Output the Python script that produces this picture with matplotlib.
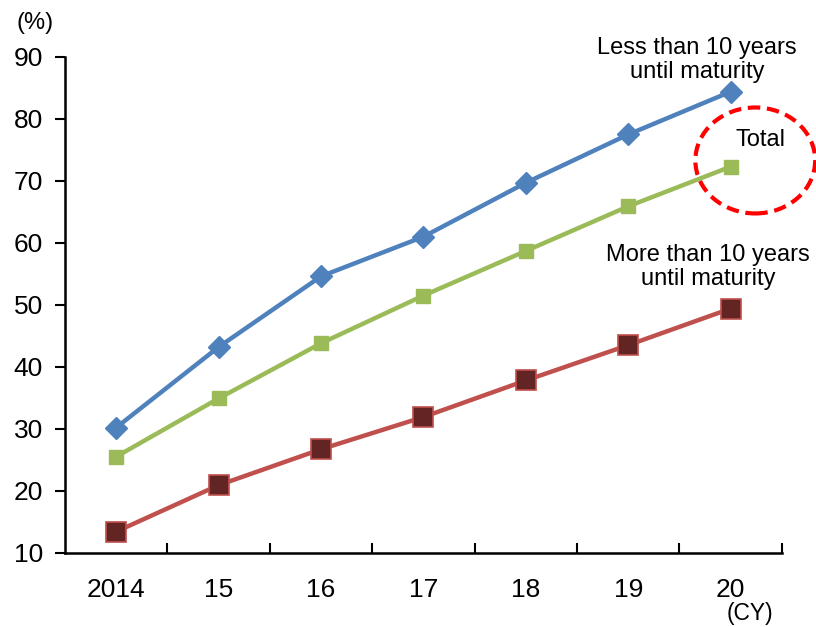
import matplotlib.pyplot as plt
from matplotlib.patches import Ellipse

plt.rcParams['font.family'] = ['Liberation Sans', 'DejaVu Sans']

# datos
years = ['2014', '15', '16', '17', '18', '19', '20']
less_10 = [30.2, 43.2, 54.6, 61.0, 69.7, 77.5, 84.4]
total = [25.5, 34.9, 43.8, 51.5, 58.7, 65.9, 72.3]
more_10 = [13.4, 20.9, 26.7, 31.9, 37.8, 43.5, 49.4]

fig = plt.figure(figsize=(8.16, 6.27), dpi=100)
ax = fig.add_axes([0.0797, 0.1185, 0.8785, 0.7906])

x = range(len(years))
ax.plot(x, less_10, color='#4F81BD', lw=3.2, marker='D', ms=11.5,
        mfc='#4F81BD', mec='#4F81BD', clip_on=False, zorder=3)
ax.plot(x, total, color='#9BBB59', lw=3.2, marker='s', ms=10,
        mfc='#9BBB59', mec='#9BBB59', clip_on=False, zorder=3)
ax.plot(x, more_10, color='#C0504D', lw=3.2, marker='s', ms=14,
        mfc='#632523', mec='#C0504D', mew=1.2, clip_on=False, zorder=3)

ax.set_xlim(-0.5, len(years) - 0.5)
ax.set_ylim(10, 90)
ax.set_yticks(range(10, 91, 10))
ax.set_xticks(x)
ax.set_xticklabels(years)
ax.set_xticks([i + 0.5 for i in range(len(years))], minor=True)

for s in ['top', 'right']:
    ax.spines[s].set_visible(False)
ax.spines['left'].set_linewidth(1.8)
ax.spines['bottom'].set_linewidth(1.8)
ax.tick_params(axis='y', direction='out', length=7, width=1.5, labelsize=19, pad=9)
ax.tick_params(axis='x', which='major', length=0, labelsize=19, pad=18)
ax.tick_params(axis='x', which='minor', direction='in', length=7, width=1.5)

# etiquetas
fig.text(0.043, 0.963, '(%)', fontsize=17, ha='center', va='center')
fig.text(0.919, 0.022, '(CY)', fontsize=16.5, ha='center', va='center')
ax.text(5.67, 89.5, 'Less than 10 years\nuntil maturity', fontsize=17,
        ha='center', va='center', linespacing=1.15)
ax.text(6.29, 76.6, 'Total', fontsize=17, ha='center', va='center')
ax.text(5.78, 56.1, 'More than 10 years\nuntil maturity', fontsize=17,
        ha='center', va='center', linespacing=1.15)

circ = Ellipse((6.24, 73.3), 1.17, 17.1, fill=False, ec='#FF0000', lw=3,
               ls=(0, (3, 1.6)), clip_on=False, zorder=4)
ax.add_patch(circ)

fig.savefig('out.png', dpi=100)
